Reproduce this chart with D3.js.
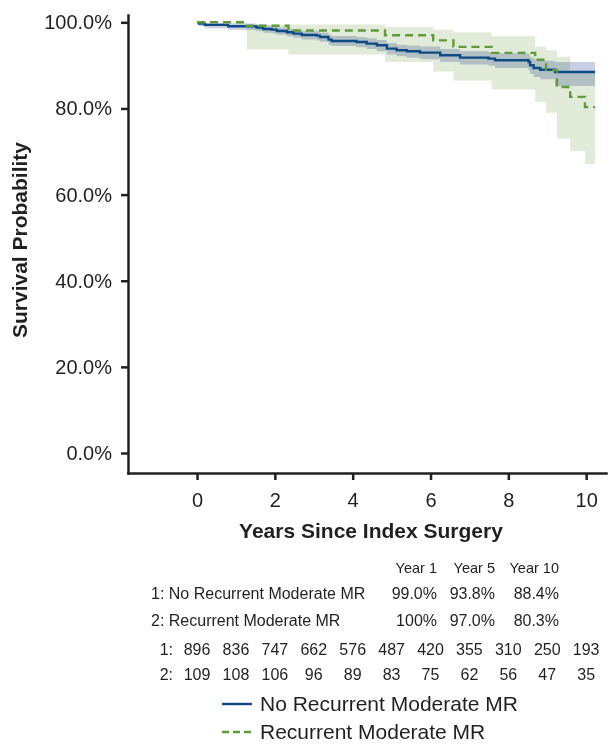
<!DOCTYPE html>
<html lang="en">
<head>
<meta charset="UTF-8">
<title>Survival by recurrent moderate MR</title>
<script src="https://d3js.org/d3.v7.min.js"></script>
<style>
    body { margin: 0; background: #fff; }
    svg { display: block; font-family: "Liberation Sans", Arial, Helvetica, sans-serif; }
    text { fill: #231f20; }
    .axis path, .axis line { stroke: #231f20; stroke-width: 2.5; }
    .axis text { font-size: 20px; }
    .band-blue { mix-blend-mode: multiply; }
</style>
</head>
<body>
<svg width="608" height="744"></svg>
<script>
    // group 1: no recurrent moderate MR (step times in years, survival %)
    const g1Time = [0, 0.05, 0.2, 0.8, 1.28, 1.53, 1.70, 1.92, 2.05, 2.31, 2.48, 2.69, 3.08, 3.16, 3.38, 3.46, 4.10, 4.36, 4.62, 4.88, 5.13, 5.39, 5.73, 6.25, 6.76, 7.49, 7.66, 8.52, 8.56, 8.65, 8.82, 9.20, 10.23];
    const g1Surv = [100, 99.7, 99.4, 99.1, 99.07, 98.76, 98.45, 98.3, 97.99, 97.68, 97.37, 97.06, 96.9, 96.6, 95.98, 95.67, 95.44, 95.05, 94.66, 93.89, 93.5, 93.27, 92.96, 92.34, 91.8, 91.57, 91.18, 90.79, 90.02, 89.4, 89.0, 88.47, 88.47];
    const g1Lower = [100, 99.1, 98.6, 98.3, 98.2, 97.9, 97.6, 97.4, 97.1, 96.7, 96.4, 96.0, 95.8, 95.5, 94.8, 94.5, 94.2, 93.8, 93.3, 92.5, 92.1, 91.8, 91.4, 90.8, 90.2, 89.9, 89.4, 88.9, 88.0, 87.3, 86.8, 85.2, 85.2];
    const g1Upper = [100, 100, 99.9, 99.8, 99.7, 99.5, 99.2, 99.1, 98.8, 98.5, 98.3, 98.0, 97.9, 97.6, 97.1, 96.8, 96.6, 96.3, 95.9, 95.2, 94.8, 94.6, 94.4, 93.8, 93.3, 93.1, 92.8, 92.5, 91.9, 91.4, 91.1, 90.8, 90.8];

    // group 2: recurrent moderate MR
    const g2Time = [0, 1.28, 2.35, 4.83, 6.07, 6.59, 7.57, 8.69, 8.97, 9.25, 9.59, 9.97, 10.23];
    const g2Surv = [100, 99.2, 98.1, 97.0, 95.8, 94.3, 92.9, 91.3, 88.9, 85.0, 82.7, 80.3, 80.3];
    const g2Lower = [100, 93.7, 92.5, 90.8, 88.6, 86.5, 84.4, 81.5, 79.0, 73.0, 70.1, 67.1, 67.1];
    const g2Upper = [100, 99.5, 99.5, 98.9, 98.3, 97.7, 96.75, 94.4, 93.5, 92.0, 88.6, 88.6, 88.6];

    const xTicks = [0, 2, 4, 6, 8, 10];
    const yTicks = [0, 20, 40, 60, 80, 100];

    // summary table
    const groupLabels = ["1: No Recurrent Moderate MR", "2: Recurrent Moderate MR"];
    const yearHeaders = ["Year 1", "Year 5", "Year 10"];
    const g1Pct = ["99.0%", "93.8%", "88.4%"];
    const g2Pct = ["100%", "97.0%", "80.3%"];

    // numbers at risk, years 0..10
    const riskYears = [0, 1, 2, 3, 4, 5, 6, 7, 8, 9, 10];
    const g1Risk = [896, 836, 747, 662, 576, 487, 420, 355, 310, 250, 193];
    const g2Risk = [109, 108, 106, 96, 89, 83, 75, 62, 56, 47, 35];

    const legendNames = ["No Recurrent Moderate MR", "Recurrent Moderate MR"];

    const blue = "#0c4a85";
    const green = "#5f9b3c";

    const svg = d3.select("svg");

    const x = d3.scaleLinear().domain([-1.774, 10.51]).range([128, 606]);
    const y = d3.scaleLinear().domain([-4.64, 101.7]).range([473, 15]);

    const rows = (t, s, lo, hi) => t.map((d, i) => ({ t: d, s: s[i], lo: lo[i], hi: hi[i] }));
    const g1 = rows(g1Time, g1Surv, g1Lower, g1Upper);
    const g2 = rows(g2Time, g2Surv, g2Lower, g2Upper);

    const area = d3.area()
        .curve(d3.curveStepAfter)
        .x(d => x(d.t))
        .y0(d => y(d.lo))
        .y1(d => y(d.hi));

    const line = d3.line()
        .curve(d3.curveStepAfter)
        .x(d => x(d.t))
        .y(d => y(d.s));

    // confidence bands
    svg.append("path").attr("d", area(g2)).attr("fill", "#e2ebd9");
    svg.append("path").attr("class", "band-blue").attr("d", area(g1)).attr("fill", "#c9d0e6");

    // curves
    svg.append("path").attr("d", line(g1))
        .attr("fill", "none").attr("stroke", blue).attr("stroke-width", 2.4);
    svg.append("path").attr("d", line(g2))
        .attr("fill", "none").attr("stroke", green).attr("stroke-width", 2.4)
        .attr("stroke-dasharray", "8,5");

    // axes
    svg.append("g").attr("class", "axis")
        .attr("transform", "translate(0,473)")
        .call(d3.axisBottom(x).tickValues(xTicks).tickSize(7).tickSizeOuter(0).tickPadding(9))
        .call(g => g.selectAll("text").attr("dy", "0.9em"));

    svg.append("g").attr("class", "axis")
        .attr("transform", "translate(128,0)")
        .call(d3.axisLeft(y).tickValues(yTicks).tickSize(7).tickSizeOuter(0).tickPadding(9)
            .tickFormat(d => d.toFixed(1) + "%"));

    svg.selectAll(".axis path").attr("stroke-linecap", "square");

    // axis titles
    svg.append("text")
        .attr("transform", "translate(27,240) rotate(-90)")
        .attr("text-anchor", "middle")
        .attr("font-size", 21).attr("font-weight", "bold")
        .text("Survival Probability");

    svg.append("text")
        .attr("x", 371).attr("y", 538)
        .attr("text-anchor", "middle")
        .attr("font-size", 21).attr("font-weight", "bold")
        .text("Years Since Index Surgery");

    // table of survival estimates
    const colRight = [437, 495, 559];
    svg.selectAll(".hdr").data(yearHeaders).enter().append("text")
        .attr("x", (d, i) => colRight[i]).attr("y", 573)
        .attr("text-anchor", "end").attr("font-size", 14.5)
        .text(d => d);

    const rowBase = [599, 626];
    svg.selectAll(".glab").data(groupLabels).enter().append("text")
        .attr("x", 151).attr("y", (d, i) => rowBase[i])
        .attr("font-size", 16)
        .text(d => d);

    [g1Pct, g2Pct].forEach((arr, r) => {
        svg.selectAll(null).data(arr).enter().append("text")
            .attr("x", (d, i) => colRight[i]).attr("y", rowBase[r])
            .attr("text-anchor", "end").attr("font-size", 16)
            .text(d => d);
    });

    // numbers at risk
    const riskBase = [655, 680];
    [g1Risk, g2Risk].forEach((arr, r) => {
        svg.append("text")
            .attr("x", 173).attr("y", riskBase[r])
            .attr("text-anchor", "end").attr("font-size", 16)
            .text((r + 1) + ":");
        svg.selectAll(null).data(arr).enter().append("text")
            .attr("x", (d, i) => x(riskYears[i])).attr("y", riskBase[r])
            .attr("text-anchor", "middle").attr("font-size", 16)
            .text(d => d);
    });

    // legend
    const legY = [704, 732];
    legendNames.forEach((name, i) => {
        svg.append("line")
            .attr("x1", 222).attr("x2", 252).attr("y1", legY[i]).attr("y2", legY[i])
            .attr("stroke", i === 0 ? blue : green).attr("stroke-width", 2.4)
            .attr("stroke-dasharray", i === 0 ? null : "7,4");
        svg.append("text")
            .attr("x", 260).attr("y", legY[i] + 6.5)
            .attr("font-size", 21)
            .text(name);
    });
</script>
</body>
</html>
